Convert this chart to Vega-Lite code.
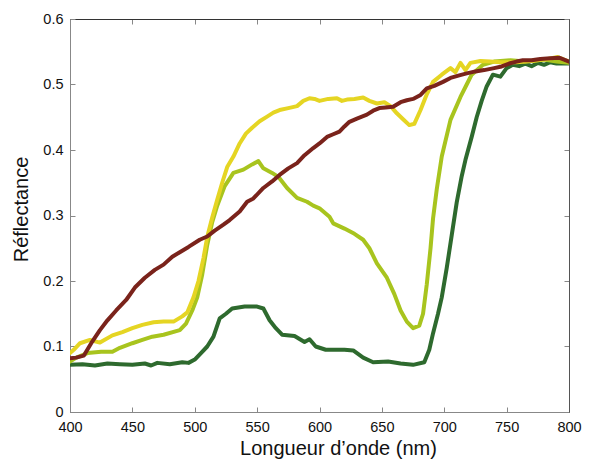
{
  "$schema": "https://vega.github.io/schema/vega-lite/v6.json",
  "width": 499,
  "height": 393,
  "autosize": {"type": "none"},
  "padding": {"left": 70, "top": 19, "right": 20, "bottom": 50},
  "background": "white",
  "config": {
    "view": {"stroke": "#333", "strokeWidth": 1},
    "font": "Liberation Sans",
    "axis": {"grid": false, "labelFlush": false, "labelOverlap": false, "labelFont": "Liberation Sans", "titleFont": "Liberation Sans", "labelFontSize": 14.5, "titleFontSize": 20, "titleFontWeight": "normal", "labelColor": "#111", "titleColor": "#111", "domainColor": "#888", "tickColor": "#888"}
  },
  "data": {"values": [
    {"wl":400,"r":0.072,"s":"G"},{"wl":410,"r":0.073,"s":"G"},{"wl":420,"r":0.071,"s":"G"},{"wl":430,"r":0.074,"s":"G"},{"wl":440,"r":0.073,"s":"G"},{"wl":450,"r":0.072,"s":"G"},{"wl":460,"r":0.074,"s":"G"},{"wl":465,"r":0.071,"s":"G"},{"wl":470,"r":0.075,"s":"G"},{"wl":480,"r":0.073,"s":"G"},{"wl":490,"r":0.076,"s":"G"},{"wl":495,"r":0.075,"s":"G"},{"wl":500,"r":0.08,"s":"G"},{"wl":505,"r":0.09,"s":"G"},{"wl":510,"r":0.1,"s":"G"},{"wl":515,"r":0.115,"s":"G"},{"wl":520,"r":0.143,"s":"G"},{"wl":525,"r":0.15,"s":"G"},{"wl":530,"r":0.158,"s":"G"},{"wl":540,"r":0.161,"s":"G"},{"wl":550,"r":0.161,"s":"G"},{"wl":555,"r":0.158,"s":"G"},{"wl":560,"r":0.14,"s":"G"},{"wl":565,"r":0.128,"s":"G"},{"wl":570,"r":0.118,"s":"G"},{"wl":580,"r":0.116,"s":"G"},{"wl":588,"r":0.107,"s":"G"},{"wl":592,"r":0.111,"s":"G"},{"wl":597,"r":0.1,"s":"G"},{"wl":605,"r":0.095,"s":"G"},{"wl":620,"r":0.095,"s":"G"},{"wl":627,"r":0.094,"s":"G"},{"wl":635,"r":0.083,"s":"G"},{"wl":643,"r":0.076,"s":"G"},{"wl":655,"r":0.077,"s":"G"},{"wl":665,"r":0.074,"s":"G"},{"wl":675,"r":0.072,"s":"G"},{"wl":684,"r":0.076,"s":"G"},{"wl":688,"r":0.095,"s":"G"},{"wl":691,"r":0.12,"s":"G"},{"wl":695,"r":0.15,"s":"G"},{"wl":698,"r":0.175,"s":"G"},{"wl":702,"r":0.22,"s":"G"},{"wl":706,"r":0.27,"s":"G"},{"wl":710,"r":0.32,"s":"G"},{"wl":714,"r":0.36,"s":"G"},{"wl":717,"r":0.385,"s":"G"},{"wl":722,"r":0.42,"s":"G"},{"wl":726,"r":0.45,"s":"G"},{"wl":730,"r":0.475,"s":"G"},{"wl":734,"r":0.497,"s":"G"},{"wl":739,"r":0.515,"s":"G"},{"wl":745,"r":0.512,"s":"G"},{"wl":750,"r":0.525,"s":"G"},{"wl":755,"r":0.53,"s":"G"},{"wl":760,"r":0.528,"s":"G"},{"wl":765,"r":0.532,"s":"G"},{"wl":770,"r":0.528,"s":"G"},{"wl":775,"r":0.533,"s":"G"},{"wl":780,"r":0.53,"s":"G"},{"wl":785,"r":0.534,"s":"G"},{"wl":790,"r":0.532,"s":"G"},{"wl":800,"r":0.532,"s":"G"},
    {"wl":400,"r":0.077,"s":"YG"},{"wl":405,"r":0.083,"s":"YG"},{"wl":414,"r":0.09,"s":"YG"},{"wl":425,"r":0.092,"s":"YG"},{"wl":434,"r":0.092,"s":"YG"},{"wl":440,"r":0.098,"s":"YG"},{"wl":450,"r":0.105,"s":"YG"},{"wl":458,"r":0.11,"s":"YG"},{"wl":466,"r":0.115,"s":"YG"},{"wl":475,"r":0.118,"s":"YG"},{"wl":488,"r":0.125,"s":"YG"},{"wl":493,"r":0.135,"s":"YG"},{"wl":498,"r":0.155,"s":"YG"},{"wl":502,"r":0.175,"s":"YG"},{"wl":506,"r":0.21,"s":"YG"},{"wl":510,"r":0.255,"s":"YG"},{"wl":514,"r":0.29,"s":"YG"},{"wl":518,"r":0.315,"s":"YG"},{"wl":524,"r":0.345,"s":"YG"},{"wl":531,"r":0.365,"s":"YG"},{"wl":539,"r":0.37,"s":"YG"},{"wl":546,"r":0.378,"s":"YG"},{"wl":551,"r":0.383,"s":"YG"},{"wl":555,"r":0.372,"s":"YG"},{"wl":562,"r":0.365,"s":"YG"},{"wl":567,"r":0.359,"s":"YG"},{"wl":574,"r":0.342,"s":"YG"},{"wl":582,"r":0.327,"s":"YG"},{"wl":590,"r":0.321,"s":"YG"},{"wl":595,"r":0.315,"s":"YG"},{"wl":600,"r":0.311,"s":"YG"},{"wl":608,"r":0.298,"s":"YG"},{"wl":611,"r":0.288,"s":"YG"},{"wl":620,"r":0.28,"s":"YG"},{"wl":628,"r":0.272,"s":"YG"},{"wl":635,"r":0.263,"s":"YG"},{"wl":640,"r":0.25,"s":"YG"},{"wl":646,"r":0.227,"s":"YG"},{"wl":654,"r":0.205,"s":"YG"},{"wl":660,"r":0.18,"s":"YG"},{"wl":665,"r":0.155,"s":"YG"},{"wl":670,"r":0.138,"s":"YG"},{"wl":675,"r":0.128,"s":"YG"},{"wl":680,"r":0.132,"s":"YG"},{"wl":683,"r":0.15,"s":"YG"},{"wl":686,"r":0.195,"s":"YG"},{"wl":689,"r":0.25,"s":"YG"},{"wl":691,"r":0.295,"s":"YG"},{"wl":694,"r":0.34,"s":"YG"},{"wl":698,"r":0.39,"s":"YG"},{"wl":705,"r":0.446,"s":"YG"},{"wl":713,"r":0.481,"s":"YG"},{"wl":718,"r":0.5,"s":"YG"},{"wl":722,"r":0.515,"s":"YG"},{"wl":731,"r":0.53,"s":"YG"},{"wl":740,"r":0.535,"s":"YG"},{"wl":753,"r":0.537,"s":"YG"},{"wl":765,"r":0.535,"s":"YG"},{"wl":780,"r":0.538,"s":"YG"},{"wl":790,"r":0.535,"s":"YG"},{"wl":800,"r":0.533,"s":"YG"},
    {"wl":400,"r":0.09,"s":"Y"},{"wl":403,"r":0.095,"s":"Y"},{"wl":408,"r":0.105,"s":"Y"},{"wl":416,"r":0.11,"s":"Y"},{"wl":424,"r":0.106,"s":"Y"},{"wl":434,"r":0.117,"s":"Y"},{"wl":442,"r":0.122,"s":"Y"},{"wl":450,"r":0.128,"s":"Y"},{"wl":458,"r":0.133,"s":"Y"},{"wl":467,"r":0.137,"s":"Y"},{"wl":475,"r":0.138,"s":"Y"},{"wl":483,"r":0.138,"s":"Y"},{"wl":490,"r":0.146,"s":"Y"},{"wl":494,"r":0.152,"s":"Y"},{"wl":499,"r":0.175,"s":"Y"},{"wl":503,"r":0.2,"s":"Y"},{"wl":507,"r":0.235,"s":"Y"},{"wl":510,"r":0.267,"s":"Y"},{"wl":514,"r":0.297,"s":"Y"},{"wl":518,"r":0.324,"s":"Y"},{"wl":522,"r":0.35,"s":"Y"},{"wl":526,"r":0.374,"s":"Y"},{"wl":531,"r":0.39,"s":"Y"},{"wl":536,"r":0.41,"s":"Y"},{"wl":541,"r":0.425,"s":"Y"},{"wl":546,"r":0.434,"s":"Y"},{"wl":552,"r":0.444,"s":"Y"},{"wl":558,"r":0.451,"s":"Y"},{"wl":563,"r":0.457,"s":"Y"},{"wl":568,"r":0.461,"s":"Y"},{"wl":575,"r":0.464,"s":"Y"},{"wl":582,"r":0.467,"s":"Y"},{"wl":587,"r":0.475,"s":"Y"},{"wl":592,"r":0.479,"s":"Y"},{"wl":596,"r":0.478,"s":"Y"},{"wl":600,"r":0.475,"s":"Y"},{"wl":607,"r":0.478,"s":"Y"},{"wl":614,"r":0.479,"s":"Y"},{"wl":618,"r":0.475,"s":"Y"},{"wl":622,"r":0.477,"s":"Y"},{"wl":628,"r":0.478,"s":"Y"},{"wl":635,"r":0.48,"s":"Y"},{"wl":640,"r":0.475,"s":"Y"},{"wl":646,"r":0.471,"s":"Y"},{"wl":652,"r":0.473,"s":"Y"},{"wl":657,"r":0.467,"s":"Y"},{"wl":662,"r":0.456,"s":"Y"},{"wl":667,"r":0.447,"s":"Y"},{"wl":672,"r":0.438,"s":"Y"},{"wl":676,"r":0.44,"s":"Y"},{"wl":681,"r":0.461,"s":"Y"},{"wl":686,"r":0.485,"s":"Y"},{"wl":691,"r":0.504,"s":"Y"},{"wl":698,"r":0.515,"s":"Y"},{"wl":705,"r":0.525,"s":"Y"},{"wl":709,"r":0.519,"s":"Y"},{"wl":713,"r":0.533,"s":"Y"},{"wl":717,"r":0.522,"s":"Y"},{"wl":721,"r":0.533,"s":"Y"},{"wl":729,"r":0.536,"s":"Y"},{"wl":737,"r":0.535,"s":"Y"},{"wl":745,"r":0.534,"s":"Y"},{"wl":758,"r":0.534,"s":"Y"},{"wl":770,"r":0.536,"s":"Y"},{"wl":780,"r":0.538,"s":"Y"},{"wl":791,"r":0.542,"s":"Y"},{"wl":796,"r":0.538,"s":"Y"},{"wl":800,"r":0.535,"s":"Y"},
    {"wl":400,"r":0.082,"s":"B"},{"wl":405,"r":0.083,"s":"B"},{"wl":411,"r":0.086,"s":"B"},{"wl":417,"r":0.105,"s":"B"},{"wl":424,"r":0.125,"s":"B"},{"wl":430,"r":0.14,"s":"B"},{"wl":437,"r":0.155,"s":"B"},{"wl":445,"r":0.171,"s":"B"},{"wl":452,"r":0.19,"s":"B"},{"wl":460,"r":0.205,"s":"B"},{"wl":468,"r":0.217,"s":"B"},{"wl":475,"r":0.225,"s":"B"},{"wl":482,"r":0.237,"s":"B"},{"wl":488,"r":0.244,"s":"B"},{"wl":495,"r":0.252,"s":"B"},{"wl":504,"r":0.263,"s":"B"},{"wl":510,"r":0.268,"s":"B"},{"wl":516,"r":0.277,"s":"B"},{"wl":523,"r":0.286,"s":"B"},{"wl":528,"r":0.293,"s":"B"},{"wl":536,"r":0.306,"s":"B"},{"wl":542,"r":0.321,"s":"B"},{"wl":547,"r":0.326,"s":"B"},{"wl":555,"r":0.342,"s":"B"},{"wl":562,"r":0.352,"s":"B"},{"wl":568,"r":0.362,"s":"B"},{"wl":575,"r":0.372,"s":"B"},{"wl":582,"r":0.38,"s":"B"},{"wl":588,"r":0.392,"s":"B"},{"wl":595,"r":0.403,"s":"B"},{"wl":600,"r":0.41,"s":"B"},{"wl":606,"r":0.42,"s":"B"},{"wl":611,"r":0.424,"s":"B"},{"wl":616,"r":0.428,"s":"B"},{"wl":620,"r":0.436,"s":"B"},{"wl":624,"r":0.443,"s":"B"},{"wl":630,"r":0.448,"s":"B"},{"wl":638,"r":0.454,"s":"B"},{"wl":643,"r":0.46,"s":"B"},{"wl":648,"r":0.464,"s":"B"},{"wl":653,"r":0.465,"s":"B"},{"wl":659,"r":0.466,"s":"B"},{"wl":665,"r":0.473,"s":"B"},{"wl":670,"r":0.476,"s":"B"},{"wl":675,"r":0.478,"s":"B"},{"wl":681,"r":0.484,"s":"B"},{"wl":686,"r":0.494,"s":"B"},{"wl":692,"r":0.498,"s":"B"},{"wl":699,"r":0.504,"s":"B"},{"wl":705,"r":0.51,"s":"B"},{"wl":712,"r":0.514,"s":"B"},{"wl":718,"r":0.517,"s":"B"},{"wl":725,"r":0.52,"s":"B"},{"wl":732,"r":0.522,"s":"B"},{"wl":740,"r":0.525,"s":"B"},{"wl":745,"r":0.527,"s":"B"},{"wl":752,"r":0.532,"s":"B"},{"wl":758,"r":0.535,"s":"B"},{"wl":763,"r":0.537,"s":"B"},{"wl":770,"r":0.537,"s":"B"},{"wl":777,"r":0.539,"s":"B"},{"wl":785,"r":0.54,"s":"B"},{"wl":792,"r":0.541,"s":"B"},{"wl":796,"r":0.538,"s":"B"},{"wl":800,"r":0.535,"s":"B"}
  ]},
  "layer": [
    {
      "mark": {"type": "line", "strokeWidth": 4, "strokeJoin": "round", "strokeCap": "round", "clip": true},
      "encoding": {
        "x": {"field": "wl", "type": "quantitative", "scale": {"domain": [400, 800], "nice": false},
          "axis": {"values": [400,450,500,550,600,650,700,750,800], "tickSize": -5, "labelPadding": 13, "title": "Longueur d’onde (nm)", "titlePadding": 5, "titleX": 268}},
        "y": {"field": "r", "type": "quantitative", "scale": {"domain": [0, 0.6], "nice": false},
          "axis": {"values": [0,0.1,0.2,0.3,0.4,0.5,0.6], "format": "~g", "tickSize": -5, "labelPadding": 12, "title": "Réflectance", "titlePadding": 11, "titleY": 190}},
        "color": {"field": "s", "type": "nominal", "legend": null,
          "scale": {"domain": ["G","YG","Y","B"], "range": ["#2e6a2e","#a8c41e","#e5d523","#7a231b"]}}
      }
    },
    {
      "mark": {"type": "line", "opacity": 0},
      "encoding": {
        "x": {"field": "wl", "type": "quantitative", "scale": {"domain": [400, 800], "nice": false},
          "axis": {"orient": "top", "values": [400,450,500,550,600,650,700,750,800], "tickSize": -5, "labels": false, "title": null, "domainColor": "#333"}},
        "y": {"field": "r", "type": "quantitative", "scale": {"domain": [0, 0.6], "nice": false},
          "axis": {"orient": "right", "values": [0,0.1,0.2,0.3,0.4,0.5,0.6], "tickSize": -5, "labels": false, "title": null, "domainColor": "#555"}},
        "detail": {"field": "s"}
      }
    }
  ],
  "resolve": {"axis": {"x": "independent", "y": "independent"}}
}
